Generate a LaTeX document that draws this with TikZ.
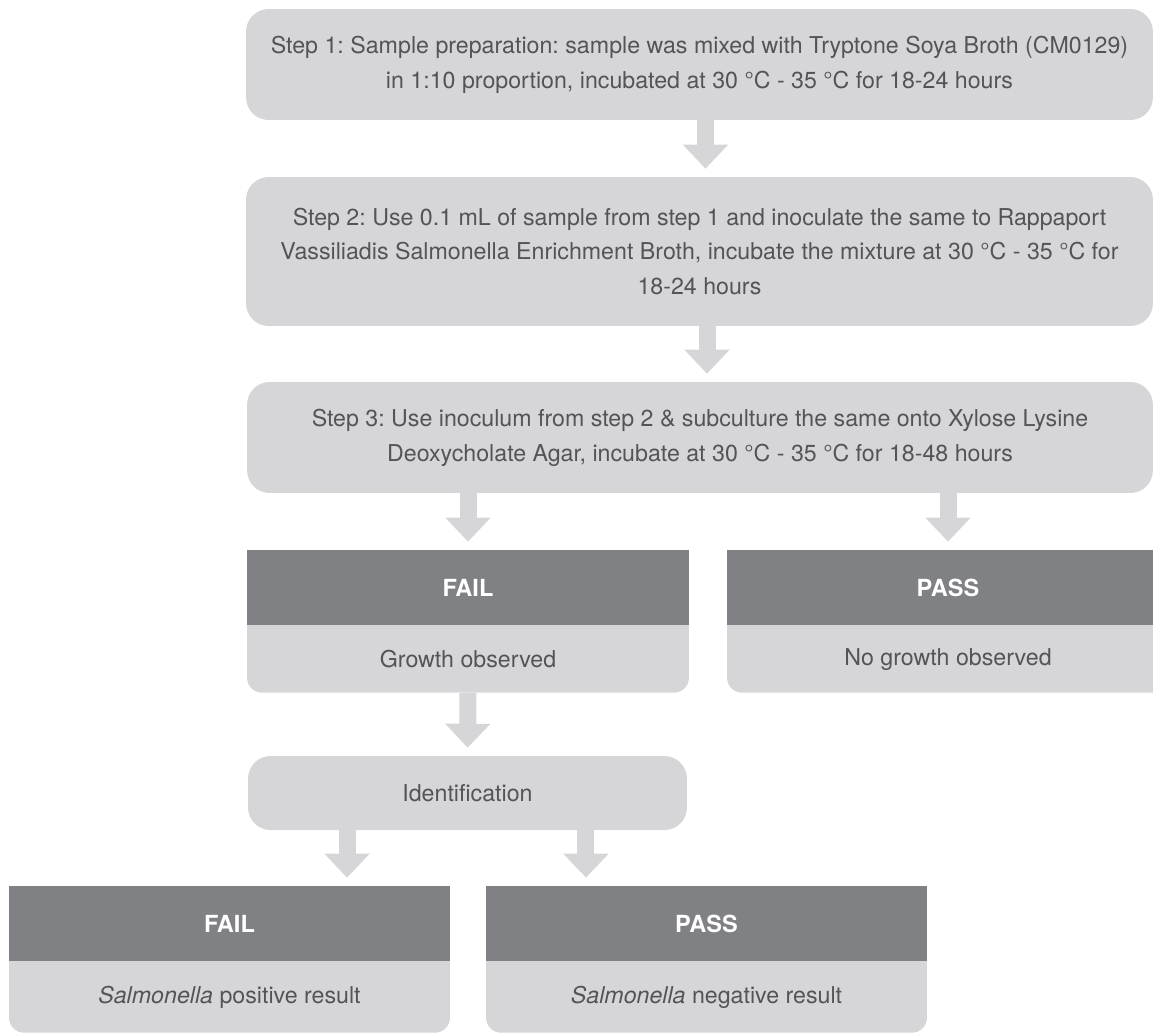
\documentclass[tikz,border=0pt]{standalone}
\usepackage{xcolor}
\usepackage{fontspec}
\setmainfont{TeX Gyre Heros}
\usepackage{tikz}
\usetikzlibrary{arrows.meta, positioning}
\frenchspacing

\definecolor{boxgrey}{RGB}{214,214,216}
\definecolor{headgrey}{RGB}{128,129,132}
\definecolor{txtgrey}{RGB}{84,84,87}

\tikzset{
  stepbox/.style={fill=boxgrey, rounded corners=0.45cm, inner sep=0pt, align=center,
    text=txtgrey, font=\fontsize{13.2pt}{19.9pt}\selectfont},
  headbox/.style={fill=headgrey, inner sep=0pt, text=white, minimum height=1.5cm,
    font=\fontsize{13.4pt}{19.9pt}\selectfont\bfseries},
  bodybox/.style={fill=boxgrey, rounded corners=0.3cm, inner sep=0pt, text=txtgrey,
    font=\fontsize{13.2pt}{19.9pt}\selectfont},
  fatarrow/.style={draw=boxgrey, line width=0.34cm, shorten >=0.16cm,
    -{Triangle[width=0.88cm, length=0.48cm]}}
}

\begin{document}
\begin{tikzpicture}[x=0.02cm, y=-0.02cm]
\useasboundingbox (0,0) rectangle (1153,1032);

% Steps
\node[stepbox, minimum width=18.14cm, minimum height=2.22cm] (step1) at (699.5,64.5)
  {Step 1: Sample preparation: sample was mixed with Tryptone Soya Broth (CM0129)\\
   in 1:10 proportion, incubated at 30 °C - 35 °C for 18-24 hours};
\node[stepbox, minimum width=18.14cm, minimum height=2.98cm] (step2) at (699.5,251.5)
  {Step 2: Use 0.1 mL of sample from step 1 and inoculate the same to Rappaport\\
   Vassiliadis Salmonella Enrichment Broth, incubate the mixture at 30 °C - 35 °C for\\
   18-24 hours};
\node[stepbox, minimum width=18.12cm, minimum height=2.22cm] (step3) at (700,437.5)
  {Step 3: Use inoculum from step 2 \& subculture the same onto Xylose Lysine\\
   Deoxycholate Agar, incubate at 30 °C - 35 °C for 18-48 hours};

% First result
\node[headbox, minimum width=8.84cm] (fail1) at (468,587.5) {FAIL};
\node[bodybox, minimum width=8.84cm, minimum height=1.34cm, below=0pt of fail1] (grow) {Growth observed};
\fill[boxgrey] (grow.north west) rectangle ([yshift=-0.35cm]grow.north east);
\node[headbox, minimum width=8.84cm] (pass1) at (948,587.5) {PASS};
\node[bodybox, minimum width=8.84cm, minimum height=1.34cm, below=0pt of pass1] (nogrow) {No growth observed};
\fill[boxgrey] (nogrow.north west) rectangle ([yshift=-0.35cm]nogrow.north east);

% Identification
\node[stepbox, minimum width=8.78cm, minimum height=1.48cm] (ident) at (467.5,793) {Identification};

% Final result
\node[headbox, minimum width=8.82cm] (fail2) at (229.5,923.5) {FAIL};
\node[bodybox, minimum width=8.82cm, minimum height=1.42cm, below=0pt of fail2] (pos) {\textit{Salmonella} positive result};
\fill[boxgrey] (pos.north west) rectangle ([yshift=-0.35cm]pos.north east);
\node[headbox, minimum width=8.82cm] (pass2) at (706.5,923.5) {PASS};
\node[bodybox, minimum width=8.82cm, minimum height=1.42cm, below=0pt of pass2] (neg) {\textit{Salmonella} negative result};
\fill[boxgrey] (neg.north west) rectangle ([yshift=-0.35cm]neg.north east);

% Arrows
\draw[fatarrow] ([xshift=0.12cm]step1.south) -- ([xshift=0.12cm]step1.south |- step2.north);
\draw[fatarrow] ([xshift=0.15cm]step2.south) -- ([xshift=0.15cm]step2.south |- step3.north);
\draw[fatarrow] (step3.south -| fail1.north) -- (fail1.north);
\draw[fatarrow] (step3.south -| pass1.north) -- (pass1.north);
\draw[fatarrow] (grow.south) -- (ident.north);
\draw[fatarrow] ([xshift=-2.41cm]ident.south) -- ([xshift=-2.41cm]ident.south |- fail2.north);
\draw[fatarrow] ([xshift=2.37cm]ident.south) -- ([xshift=2.37cm]ident.south |- pass2.north);
\end{tikzpicture}
\end{document}
